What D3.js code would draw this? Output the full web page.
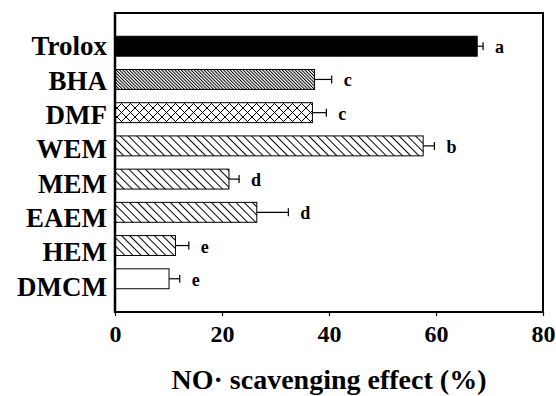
<!DOCTYPE html>
<html><head><meta charset="utf-8">
<script src="https://cdn.jsdelivr.net/npm/d3@7"></script>
<style>html,body{margin:0;padding:0;background:#fff;}svg{display:block;}</style>
</head><body>
<svg id="c" width="556" height="396"></svg>
<script>
const categories = ["Trolox","BHA","DMF","WEM","MEM","EAEM","HEM","DMCM"];
const values = [67.7, 37.3, 36.9, 57.6, 21.3, 26.5, 11.3, 10.1];
const errors = [1.1, 3.2, 2.6, 2.1, 1.9, 5.9, 2.5, 2.0];
const letters = ["a","c","c","b","d","d","e","e"];
const fills = ["solid","dense","cross","diag","diag","diag","diag","none"];
const xTicks = [0, 20, 40, 60, 80];
const xTitle = "NO\u00B7 scavenging effect (%)";

const svg = d3.select("#c");
const L = 115, R = 543, T = 13, B = 312;
const x = d3.scaleLinear().domain([0, 80]).range([L, R]);
const y = d3.scaleBand().domain(categories).range([T, B]).paddingInner(0.4).paddingOuter(0.7);
const yLab = d3.scaleBand().domain(categories).range([12, 321]).paddingInner(0.4).paddingOuter(0.7);

const defs = svg.append("defs");
function linePattern(id, w, rot) {
  const p = defs.append("pattern").attr("id", id).attr("patternUnits", "userSpaceOnUse")
    .attr("width", w).attr("height", 10).attr("patternTransform", `rotate(${rot})`);
  p.append("rect").attr("width", w).attr("height", 10).attr("fill", "#fff");
  p.append("line").attr("x1", 0.5).attr("y1", 0).attr("x2", 0.5).attr("y2", 10)
    .attr("stroke", "#000").attr("stroke-width", 1);
}
linePattern("dense", 2.3, -45);
linePattern("diag", 5.8, -45);
const cp = defs.append("pattern").attr("id", "cross").attr("patternUnits", "userSpaceOnUse")
  .attr("width", 9).attr("height", 9);
cp.append("rect").attr("width", 9).attr("height", 9).attr("fill", "#fff");
cp.append("path").attr("d", "M0,0L9,9M9,0L0,9").attr("stroke", "#000").attr("stroke-width", 1);

const fillOf = f => f === "solid" ? "#000" : f === "none" ? "#fff" : `url(#${f})`;

const data = categories.map((c, i) => ({c, v: values[i], e: errors[i], l: letters[i], f: fills[i]}));

// bars
svg.append("g").selectAll("rect").data(data).join("rect")
  .attr("x", x(0)).attr("y", d => y(d.c))
  .attr("width", d => x(d.v) - x(0)).attr("height", y.bandwidth())
  .attr("fill", d => fillOf(d.f)).attr("stroke", "#000").attr("stroke-width", 1);

// error bars
const eg = svg.append("g").attr("stroke", "#000").attr("stroke-width", 1.2);
data.forEach(d => {
  const cy = y(d.c) + y.bandwidth() / 2;
  eg.append("line").attr("x1", x(d.v)).attr("x2", x(d.v + d.e)).attr("y1", cy).attr("y2", cy);
  eg.append("line").attr("x1", x(d.v + d.e)).attr("x2", x(d.v + d.e)).attr("y1", cy - 4).attr("y2", cy + 4);
});

// letters
svg.append("g").selectAll("text").data(data).join("text")
  .attr("x", d => x(d.v + d.e) + 12).attr("y", d => y(d.c) + y.bandwidth() / 2 + 7)
  .attr("font-family", "Liberation Serif, Times New Roman, serif").attr("font-weight", "bold")
  .attr("font-size", 18).text(d => d.l);

// frame
svg.append("rect").attr("x", L).attr("y", T).attr("width", R - L).attr("height", B - T)
  .attr("fill", "none").attr("stroke", "#000").attr("stroke-width", 2);

// x axis
const xa = svg.append("g").attr("transform", `translate(0,${B})`)
  .call(d3.axisBottom(x).tickValues(xTicks).tickSize(4).tickPadding(9).tickFormat(d3.format("d")));
xa.select(".domain").remove();
xa.selectAll("line").attr("stroke-width", 1.2);
xa.selectAll("text").attr("font-family", "Liberation Serif, Times New Roman, serif")
  .attr("font-weight", "bold").attr("font-size", 24).attr("fill", "#000");

// y axis labels
const ya = svg.append("g").attr("transform", `translate(${L - 8},0)`)
  .call(d3.axisLeft(yLab).tickSize(0).tickPadding(0));
ya.select(".domain").remove();
ya.selectAll("text").attr("font-family", "Liberation Serif, Times New Roman, serif")
  .attr("font-weight", "bold").attr("font-size", 27).attr("fill", "#000").attr("dy", "0.33em");

// left axis line thicker
svg.append("line").attr("x1", L).attr("x2", L).attr("y1", T - 1).attr("y2", B + 1)
  .attr("stroke", "#000").attr("stroke-width", 2.5);

// title
svg.append("text").attr("x", (L + R) / 2).attr("y", 389).attr("text-anchor", "middle")
  .attr("font-family", "Liberation Serif, Times New Roman, serif").attr("font-weight", "bold")
  .attr("font-size", 28).text(xTitle);
</script>
</body></html>
